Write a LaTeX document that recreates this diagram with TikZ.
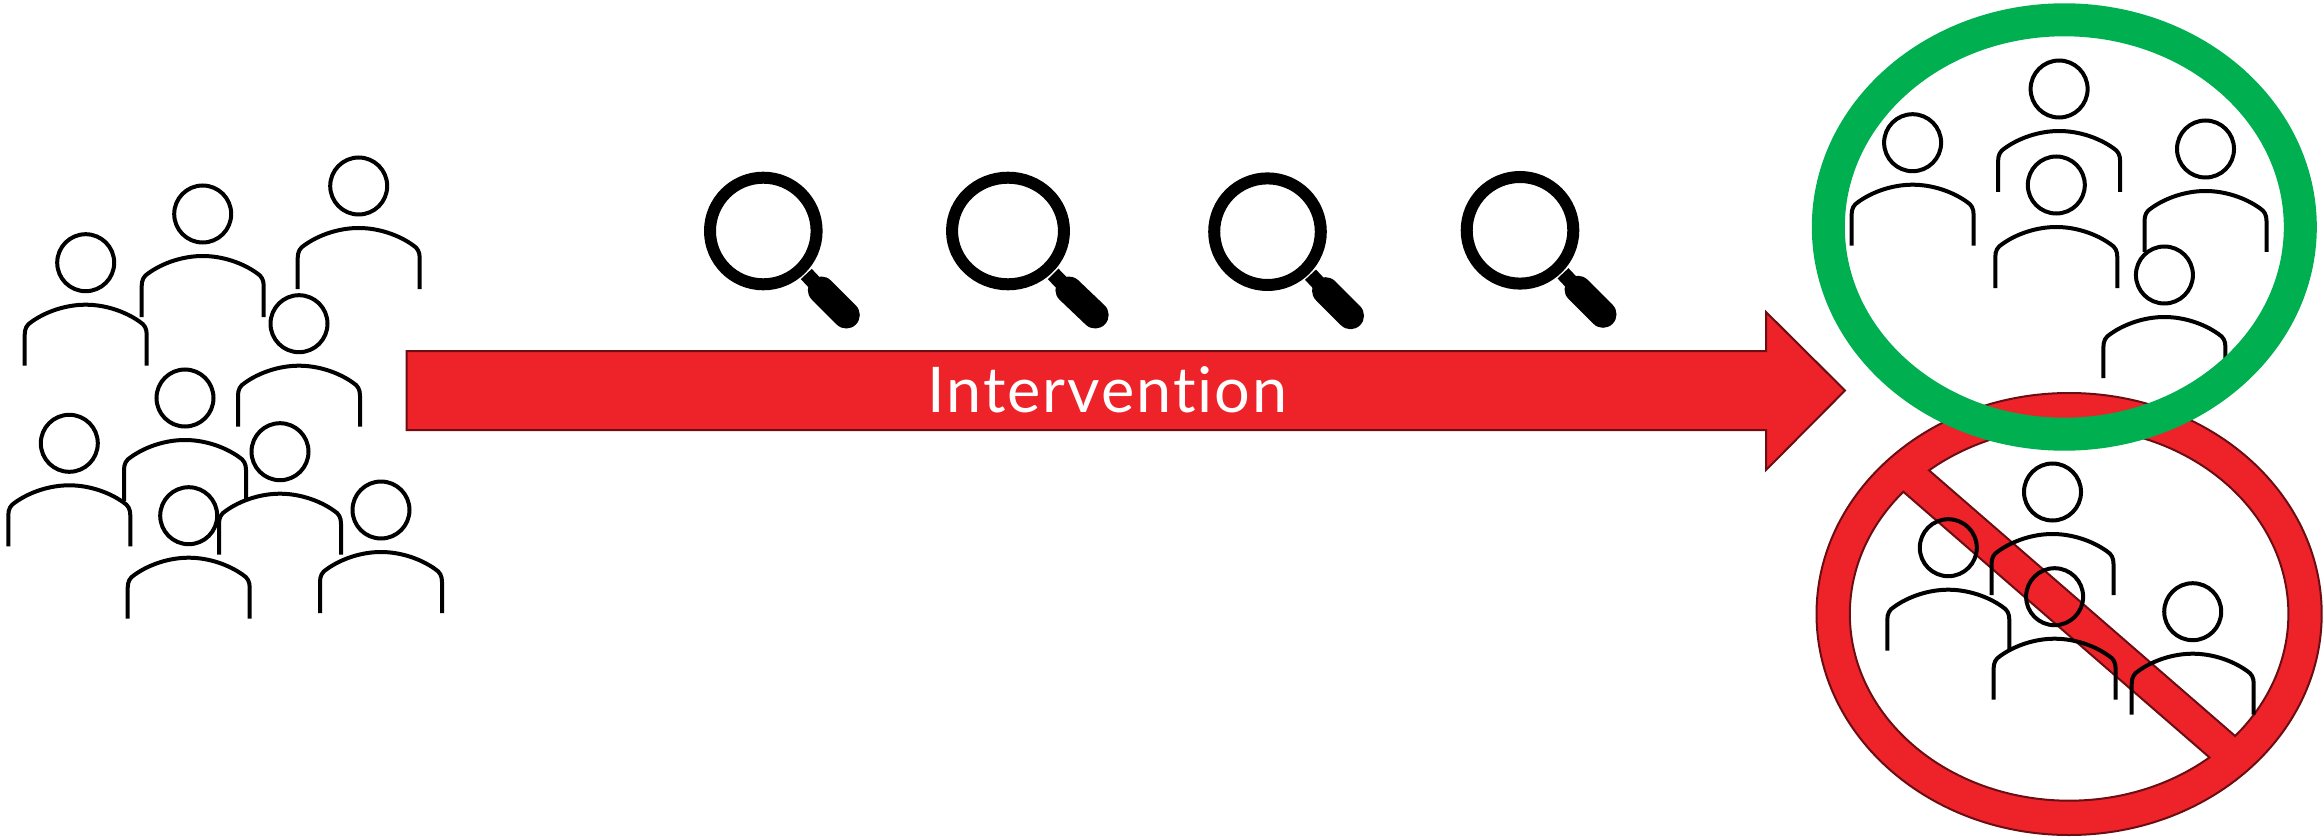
\documentclass[tikz,border=0pt]{standalone}
\usepackage{fontspec}
\setmainfont[RawFeature={-liga;-clig;-dlig},LetterSpace=3.0]{Lato}
\definecolor{signred}{HTML}{ED2329}
\definecolor{signdark}{HTML}{6B0D12}
\definecolor{ringgreen}{HTML}{00B050}
\tikzset{
  x=0.5pt,y=0.5pt,
  figline/.style={line width=2pt},
  figbody/.pic={
    \path[pic actions,figline] (-61,-103) -- (-61,-72) .. controls (-61,-66) and (-59,-62) .. (-54,-59)
      .. controls (-40,-49) and (-20,-42) .. (0,-42) .. controls (20,-42) and (40,-49) .. (54,-59)
      .. controls (59,-62) and (61,-66) .. (61,-72) -- (61,-103);
    \path[pic actions,figline] (0,0) circle[radius=14.25pt];
  },
  solidfig/.style={fill=white,draw=black},
  openfig/.style={draw=black},
  lens/.pic={
    \draw[line width=7.5pt,black] (43,-43) -- (58,-59);
    \draw[line width=13.5pt,black,line cap=round] (58,-59) -- (83,-84);
    \draw[line width=6pt,black] (0,0) circle[radius=26.65pt];
  },
  signshape/.style={fill=signred,draw=signdark,line width=1pt},
  hole/.style={fill=white,draw=signdark,line width=1pt},
}
\begin{document}
\begin{tikzpicture}
\useasboundingbox (0,0) rectangle (2323,837);
% left crowd
\foreach \px/\py/\nm in {85.7/262.7/p1,202.7/214/p2,358.7/186/p3,299/323.7/p4,185/398/p5,69.3/443.3/p6,188.7/515.7/p8,280/451.7/p7,381/510/p9}
  \pic[solidfig] (\nm) at (\px,837-\py) {figbody};
% magnifiers
\pic (m1) at (763.3,606) {lens};
\pic[xscale=1.05] (m2) at (1008,606) {lens};
\pic (m3) at (1267.5,605.3) {lens};
\pic (m4) at (1520,606.7) {lens};
% arrow
\draw[signshape,line join=miter] (406.5,486) -- (1766,486) -- (1766,525) -- (1845,446.5) -- (1766,367) -- (1766,407) -- (406.5,407) -- cycle;
\node[text=white,font=\fontsize{31.5pt}{36pt}\selectfont,anchor=base,inner sep=0pt] (label) at (1107.5,424.7) {Intervention};
% red sign
\coordinate (rc) at (2069.1,223);
\fill[signshape] (rc) ellipse[x radius=126.3pt,y radius=110.5pt];
\draw[hole] (rc) ++(129.7:219.3 and 186.7) arc[start angle=129.7,end angle=-40.8,x radius=109.65pt,y radius=93.35pt] -- cycle;
\draw[hole] (rc) ++(-50.2:219.3 and 186.7) arc[start angle=-50.2,end angle=-220.9,x radius=109.65pt,y radius=93.35pt] -- cycle;
\foreach \px/\py/\nm in {1948.3/547.7/r1,2052.5/492/r2,2054.6/596.7/r3,2192.7/611.7/r4}
  \pic[openfig] (\nm) at (\px,837-\py) {figbody};
% green group
\foreach \px/\py/\nm in {1912.6/142.7/g1,2059.1/89/g2,2056.3/185/g3,2205.5/149/g4,2164.4/275/g5}
  \pic[solidfig] (\nm) at (\px,837-\py) {figbody};
\draw[ringgreen,line width=16.5pt] (2064.3,610) ellipse[x radius=118pt,y radius=103.6pt];
\end{tikzpicture}
\end{document}
